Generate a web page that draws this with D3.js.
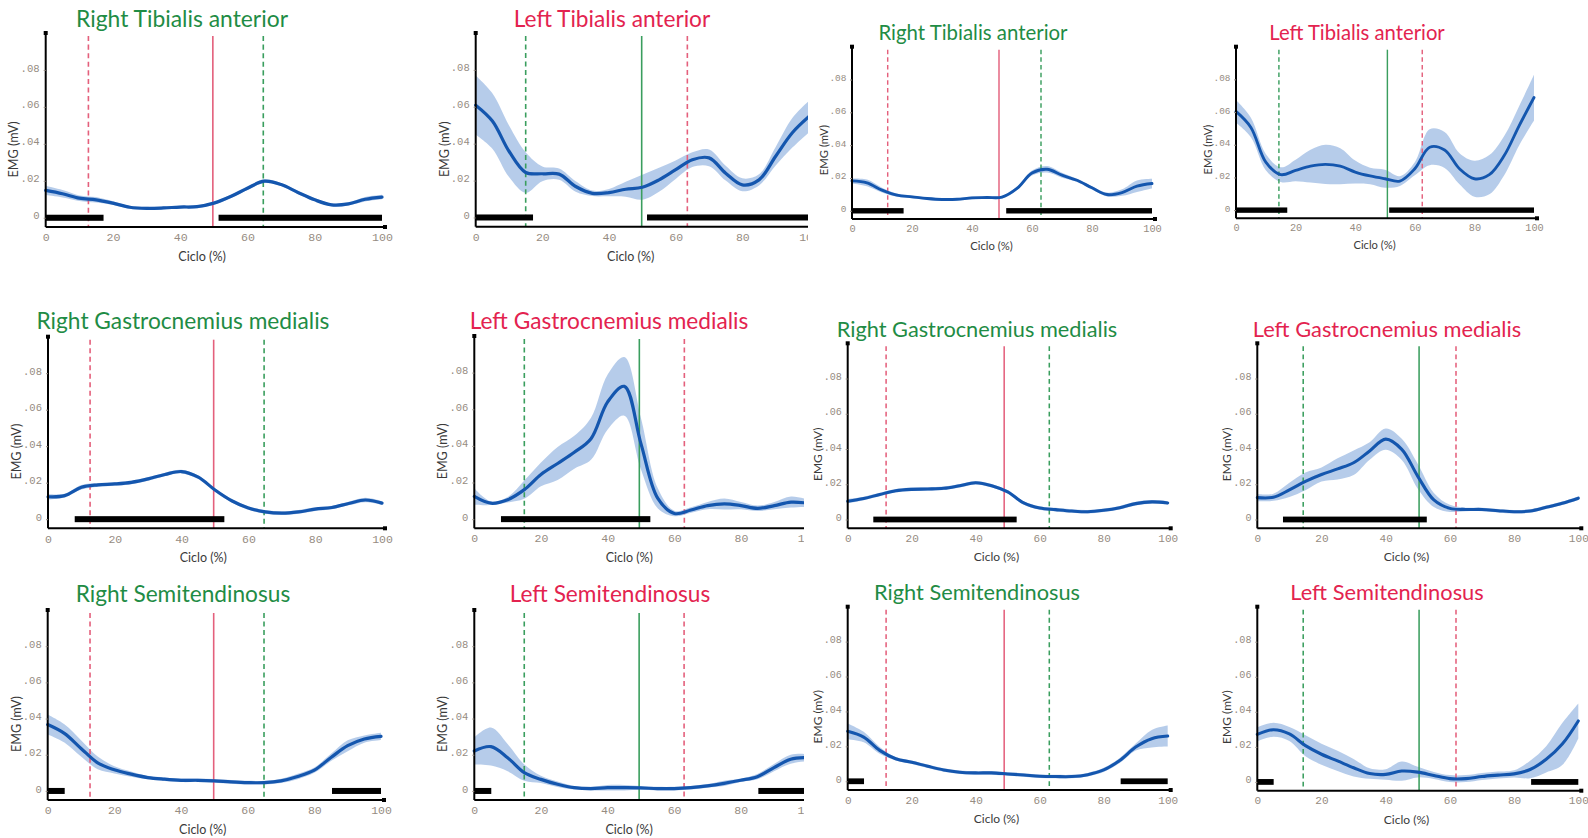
<!DOCTYPE html>
<html>
<head>
<meta charset="utf-8">
<script src="https://cdn.jsdelivr.net/npm/d3@7"></script>
<style>
  body { margin: 0; background: #fff; }
  svg { display: block; }
</style>
</head>
<body>
<svg id="chart" width="1588" height="838"></svg>
<script>
// gait cycle samples (%)
const cycle = [0, 5, 10, 15, 20, 25, 30, 35, 40, 45, 50, 55, 60, 65, 70, 75, 80, 85, 90, 95, 100]
const xTicks = [0, 20, 40, 60, 80, 100]
const yTicks = [0, 0.02, 0.04, 0.06, 0.08]

const titles = [
  'Right Tibialis anterior', 'Left Tibialis anterior', 'Right Tibialis anterior', 'Left Tibialis anterior',
  'Right Gastrocnemius medialis', 'Left Gastrocnemius medialis', 'Right Gastrocnemius medialis', 'Left Gastrocnemius medialis',
  'Right Semitendinosus', 'Left Semitendinosus', 'Right Semitendinosus', 'Left Semitendinosus'
]
const sides = ['right', 'left', 'right', 'left', 'right', 'left', 'right', 'left', 'right', 'left', 'right', 'left']

// mean EMG (mV) and SD
const rTA1Mean = [0.0148, 0.013, 0.0106, 0.0097, 0.0079, 0.0057, 0.0051, 0.0053, 0.0058, 0.006, 0.0079, 0.0115, 0.016, 0.0198, 0.018, 0.0137, 0.0097, 0.007, 0.0075, 0.01, 0.0112]
const rTA1Sd = [0.0025, 0.002, 0.0015, 0.0015, 0.001, 0.0008, 0.0008, 0.0008, 0.0008, 0.0008, 0.0008, 0.001, 0.001, 0.001, 0.0008, 0.0008, 0.0008, 0.0008, 0.0008, 0.0012, 0.0012]
const lTA1Mean = [0.0609, 0.0523, 0.0359, 0.0244, 0.0237, 0.0235, 0.0168, 0.0131, 0.0135, 0.0153, 0.0164, 0.0204, 0.0259, 0.0313, 0.0323, 0.024, 0.0177, 0.0204, 0.0332, 0.0459, 0.0547]
const lTA1Sd = [0.016, 0.015, 0.014, 0.011, 0.004, 0.003, 0.0028, 0.0015, 0.002, 0.004, 0.0068, 0.0065, 0.005, 0.004, 0.0045, 0.004, 0.0035, 0.003, 0.005, 0.008, 0.0085]
const rTA2Mean = [0.0182, 0.017, 0.0126, 0.0095, 0.0085, 0.0075, 0.0069, 0.007, 0.0079, 0.0081, 0.0083, 0.0136, 0.023, 0.0253, 0.0217, 0.0186, 0.014, 0.0099, 0.0111, 0.015, 0.0166]
const rTA2Sd = [0.0015, 0.002, 0.0015, 0.001, 0.0008, 0.0008, 0.0008, 0.0008, 0.0008, 0.0008, 0.0008, 0.001, 0.0015, 0.002, 0.0015, 0.001, 0.001, 0.0012, 0.002, 0.0035, 0.003]
const lTA2Mean = [0.0604, 0.0506, 0.0294, 0.0217, 0.0243, 0.0269, 0.028, 0.0269, 0.0233, 0.0209, 0.0192, 0.0178, 0.0253, 0.0385, 0.0368, 0.0253, 0.0192, 0.0217, 0.0334, 0.0516, 0.0689]
const lTA2Sd = [0.007, 0.006, 0.005, 0.0045, 0.0066, 0.01, 0.012, 0.011, 0.007, 0.005, 0.0055, 0.003, 0.004, 0.011, 0.011, 0.0095, 0.011, 0.012, 0.012, 0.012, 0.014]
const rGM1Mean = [0.0123, 0.0129, 0.0175, 0.0188, 0.0193, 0.0202, 0.0221, 0.0245, 0.0261, 0.023, 0.016, 0.0101, 0.0061, 0.004, 0.0033, 0.004, 0.0055, 0.0064, 0.0086, 0.0105, 0.0088]
const rGM1Sd = [0.0015, 0.001, 0.0012, 0.001, 0.001, 0.001, 0.001, 0.001, 0.001, 0.001, 0.001, 0.001, 0.001, 0.001, 0.001, 0.001, 0.001, 0.001, 0.001, 0.0012, 0.001]
const lGM1Mean = [0.0124, 0.0087, 0.0106, 0.0161, 0.0244, 0.0304, 0.0365, 0.0439, 0.064, 0.0725, 0.0411, 0.0115, 0.0031, 0.005, 0.0074, 0.0083, 0.0074, 0.0059, 0.0074, 0.0093, 0.0087]
const lGM1Sd = [0.0045, 0.001, 0.0015, 0.005, 0.0065, 0.009, 0.009, 0.0115, 0.015, 0.016, 0.014, 0.0055, 0.0015, 0.0015, 0.002, 0.003, 0.002, 0.0015, 0.002, 0.003, 0.002]
const rGM2Mean = [0.0104, 0.0119, 0.0142, 0.0163, 0.0171, 0.0173, 0.0177, 0.0192, 0.0209, 0.0192, 0.0157, 0.0094, 0.0065, 0.0056, 0.0048, 0.0044, 0.0052, 0.0067, 0.009, 0.01, 0.0094]
const rGM2Sd = [0.0012, 0.001, 0.001, 0.001, 0.001, 0.001, 0.001, 0.001, 0.001, 0.001, 0.001, 0.001, 0.001, 0.001, 0.001, 0.001, 0.001, 0.001, 0.001, 0.001, 0.001]
const lGM2Mean = [0.0124, 0.0126, 0.0168, 0.0216, 0.0255, 0.0287, 0.0322, 0.0389, 0.0456, 0.0398, 0.0245, 0.0111, 0.0063, 0.0057, 0.0057, 0.005, 0.0044, 0.0048, 0.0069, 0.0092, 0.0121]
const lGM2Sd = [0.002, 0.002, 0.004, 0.005, 0.004, 0.006, 0.007, 0.005, 0.006, 0.006, 0.007, 0.004, 0.002, 0.001, 0.001, 0.001, 0.001, 0.001, 0.001, 0.001, 0.001]
const rST1Mean = [0.0367, 0.0318, 0.0235, 0.0155, 0.0117, 0.0093, 0.0074, 0.0065, 0.0059, 0.0059, 0.0056, 0.005, 0.0046, 0.0046, 0.0056, 0.008, 0.0115, 0.0185, 0.025, 0.0287, 0.0302]
const rST1Sd = [0.0055, 0.005, 0.0045, 0.0035, 0.002, 0.0015, 0.001, 0.001, 0.001, 0.001, 0.001, 0.001, 0.001, 0.001, 0.0012, 0.0015, 0.0015, 0.002, 0.003, 0.002, 0.002]
const lST1Mean = [0.0221, 0.0245, 0.0184, 0.0101, 0.0064, 0.0037, 0.0018, 0.0013, 0.0018, 0.0018, 0.0017, 0.0013, 0.0013, 0.0018, 0.0028, 0.0042, 0.0059, 0.0079, 0.0129, 0.0175, 0.0184]
const lST1Sd = [0.0075, 0.0105, 0.0075, 0.0045, 0.002, 0.0015, 0.001, 0.001, 0.0015, 0.0015, 0.001, 0.001, 0.001, 0.001, 0.001, 0.0015, 0.001, 0.0015, 0.002, 0.0025, 0.002]
const rST2Mean = [0.0286, 0.0253, 0.0177, 0.0129, 0.0109, 0.0086, 0.0065, 0.0052, 0.0048, 0.0048, 0.0042, 0.0036, 0.0029, 0.0027, 0.0027, 0.0038, 0.0065, 0.0119, 0.0196, 0.0244, 0.0259]
const rST2Sd = [0.0045, 0.003, 0.002, 0.001, 0.001, 0.001, 0.001, 0.001, 0.001, 0.001, 0.001, 0.001, 0.001, 0.001, 0.001, 0.001, 0.0012, 0.0015, 0.002, 0.005, 0.006]
const lST2Mean = [0.0271, 0.0298, 0.0274, 0.0207, 0.0158, 0.012, 0.0081, 0.0048, 0.0043, 0.0062, 0.0056, 0.0037, 0.0019, 0.0019, 0.0031, 0.0039, 0.0046, 0.0071, 0.0129, 0.0216, 0.0348]
const lST2Sd = [0.004, 0.004, 0.004, 0.006, 0.006, 0.0058, 0.005, 0.003, 0.003, 0.0055, 0.003, 0.002, 0.002, 0.002, 0.002, 0.002, 0.002, 0.005, 0.0075, 0.012, 0.01]

const means = [rTA1Mean, lTA1Mean, rTA2Mean, lTA2Mean, rGM1Mean, lGM1Mean, rGM2Mean, lGM2Mean, rST1Mean, lST1Mean, rST2Mean, lST2Mean]
const sds = [rTA1Sd, lTA1Sd, rTA2Sd, lTA2Sd, rGM1Sd, lGM1Sd, rGM2Sd, lGM2Sd, rST1Sd, lST1Sd, rST2Sd, lST2Sd]

// gait events (% cycle): contralateral toe off, contralateral foot contact, toe off
const oppToeOff = [12.7, 15.0, 11.9, 14.4, 12.6, 15.0, 12.0, 14.3, 12.7, 15.0, 12.0, 14.3]
const oppContact = [49.7, 49.8, 49.0, 50.8, 49.6, 49.5, 48.9, 50.4, 49.8, 49.5, 48.9, 50.4]
const toeOff = [64.7, 63.5, 63.0, 62.5, 64.7, 63.0, 63.0, 61.9, 64.9, 63.0, 63.0, 61.9]

// normative activation intervals (% cycle) per muscle
const taActive = [[0, 17.2], [51.4, 100]]
const gmActive = [[8, 52.8]]
const stActive = [[0, 5.1], [85.3, 100]]
const activeBars = [taActive, taActive, taActive, taActive, gmActive, gmActive, gmActive, gmActive, stActive, stActive, stActive, stActive]

// panel placement in the page
const layout = [
  { l: 45.7, r: 382, t: 33, b: 227, tx: 182, ty: 27 },
  { l: 475.7, r: 809, t: 33, b: 226.7, tx: 612, ty: 27, clip: 808 },
  { l: 852, r: 1152, t: 46.7, b: 219, tx: 973, ty: 40 },
  { l: 1236, r: 1534, t: 46.7, b: 218.3, tx: 1357, ty: 40 },
  { l: 48, r: 382, t: 336.7, b: 528.3, tx: 183, ty: 329 },
  { l: 474.3, r: 807.7, t: 336, b: 528.3, tx: 609, ty: 329, clip: 804 },
  { l: 847.7, r: 1167.7, t: 343.3, b: 528.3, tx: 977, ty: 336.5 },
  { l: 1257.3, r: 1578.3, t: 343.3, b: 528.3, tx: 1387, ty: 336.5 },
  { l: 47.7, r: 381, t: 610, b: 800, tx: 183, ty: 601.5 },
  { l: 474.3, r: 807.3, t: 610, b: 800, tx: 610, ty: 601.5, clip: 804 },
  { l: 847.7, r: 1167.7, t: 606.7, b: 790, tx: 977, ty: 599.5 },
  { l: 1257.3, r: 1578.3, t: 606.7, b: 790.7, tx: 1387, ty: 600 }
]

const GREEN = '#1f8c45'
const RED = '#e3234f'
const LINE_GREEN = '#3a9e5e'
const LINE_RED = '#e4607c'

function draw() {
  const svg = d3.select('#chart')
  const defs = svg.append('defs')
  const curve = d3.curveCatmullRom.alpha(0.5)
  const yFmt = v => v === 0 ? '0' : d3.format('.2f')(v).replace(/^0/, '')

  // calibrate title font against the first panel title width
  const probe = svg.append('text').attr('font-family', 'Lato, sans-serif').attr('font-size', 20).text(titles[0])
  const k = 210 / probe.node().getComputedTextLength()
  probe.remove()

  layout.forEach((p, i) => {
    const s = (p.r - p.l) / 333
    const g = svg.append('g')
    if (p.clip) {
      defs.append('clipPath').attr('id', 'clip' + i)
        .append('rect').attr('x', 0).attr('y', 0).attr('width', p.clip).attr('height', 838)
      g.attr('clip-path', `url(#clip${i})`)
    }

    const x = d3.scaleLinear().domain([0, 100]).range([p.l, p.r])
    const y = d3.scaleLinear().domain([-0.005, 0.1]).range([p.b, p.t])

    const rows = cycle.map((c, j) => ({ c, m: means[i][j], sd: sds[i][j] }))

    // SD band
    g.append('path').datum(rows)
      .attr('d', d3.area().x(d => x(d.c)).y0(d => y(d.m - d.sd)).y1(d => y(d.m + d.sd)).curve(curve))
      .attr('fill', '#a9c3e6')
      .attr('opacity', 0.85)

    // gait event lines
    const right = sides[i] === 'right'
    const events = [
      { v: oppToeOff[i], c: right ? LINE_RED : LINE_GREEN, dash: true },
      { v: oppContact[i], c: right ? LINE_RED : LINE_GREEN, dash: false },
      { v: toeOff[i], c: right ? LINE_GREEN : LINE_RED, dash: true }
    ]
    g.selectAll('line.ev').data(events).enter().append('line')
      .attr('x1', d => x(d.v)).attr('x2', d => x(d.v))
      .attr('y1', p.t + 3).attr('y2', p.b)
      .attr('stroke', d => d.c)
      .attr('stroke-width', 1.6 * s)
      .attr('stroke-dasharray', d => d.dash ? `${5 * s},${3.5 * s}` : null)

    // mean curve
    g.append('path').datum(rows)
      .attr('d', d3.line().x(d => x(d.c)).y(d => y(d.m)).curve(curve))
      .attr('fill', 'none')
      .attr('stroke', '#1456ae')
      .attr('stroke-width', 3.2 * s)
      .attr('stroke-linecap', 'round')

    // activation bars
    g.selectAll('rect.bar').data(activeBars[i]).enter().append('rect')
      .attr('x', d => x(d[0]))
      .attr('width', d => x(d[1]) - x(d[0]))
      .attr('y', y(0) - 3 * s)
      .attr('height', 6 * s)
      .attr('fill', '#000')

    // axes
    const xAxis = g.append('g').attr('transform', `translate(0,${p.b})`)
      .call(d3.axisBottom(x).tickValues(xTicks).tickSize(0).tickPadding(6 * s).tickSizeOuter(0))
    xAxis.select('.domain').attr('stroke', '#000').attr('stroke-width', 2).attr('d', `M${p.l},0H${p.r + 3}`)
    xAxis.selectAll('text')
      .attr('fill', '#968c82').attr('font-family', 'Liberation Mono, monospace').attr('font-size', 11.5 * s)
    g.append('rect').attr('x', p.r + 1).attr('y', p.b - 2).attr('width', 4).attr('height', 4).attr('fill', '#000')

    const yAxis = g.append('g').attr('transform', `translate(${p.l},0)`)
      .call(d3.axisLeft(y).tickValues(yTicks).tickFormat(yFmt).tickSize(2).tickPadding(4 * s).tickSizeOuter(0))
    yAxis.select('.domain').attr('stroke', '#000').attr('stroke-width', 2).attr('d', `M0,${p.b}V${p.t}`)
    yAxis.selectAll('.tick line').attr('stroke', '#968c82').attr('stroke-width', 1)
    yAxis.selectAll('text')
      .attr('fill', '#968c82').attr('font-family', 'Liberation Mono, monospace').attr('font-size', 10.5 * s)
      .attr('dy', '0.1em')
    g.append('rect').attr('x', p.l - 2).attr('y', p.t - 2).attr('width', 4).attr('height', 4).attr('fill', '#000')

    // axis titles
    g.append('text')
      .attr('x', p.l + 0.465 * (p.r - p.l))
      .attr('y', p.b + 30 * s + 4)
      .attr('text-anchor', 'middle')
      .attr('font-family', 'Lato, sans-serif')
      .attr('font-size', 12.5 * s)
      .attr('fill', '#3a3a3a')
      .text('Ciclo (%)')
    g.append('text')
      .attr('transform', `translate(${p.l - 27 * s},${p.t + 0.6 * (p.b - p.t)}) rotate(-90)`)
      .attr('text-anchor', 'middle')
      .attr('font-family', 'Lato, sans-serif')
      .attr('font-size', 12.5 * s)
      .attr('fill', '#3a3a3a')
      .text('EMG (mV)')

    // panel title
    g.append('text')
      .attr('x', p.tx).attr('y', p.ty)
      .attr('text-anchor', 'middle')
      .attr('font-family', 'Lato, sans-serif')
      .attr('font-size', 20 * k * s)
      .attr('fill', right ? GREEN : RED)
      .text(titles[i])
  })
}

window.onload = draw
</script>
</body>
</html>
